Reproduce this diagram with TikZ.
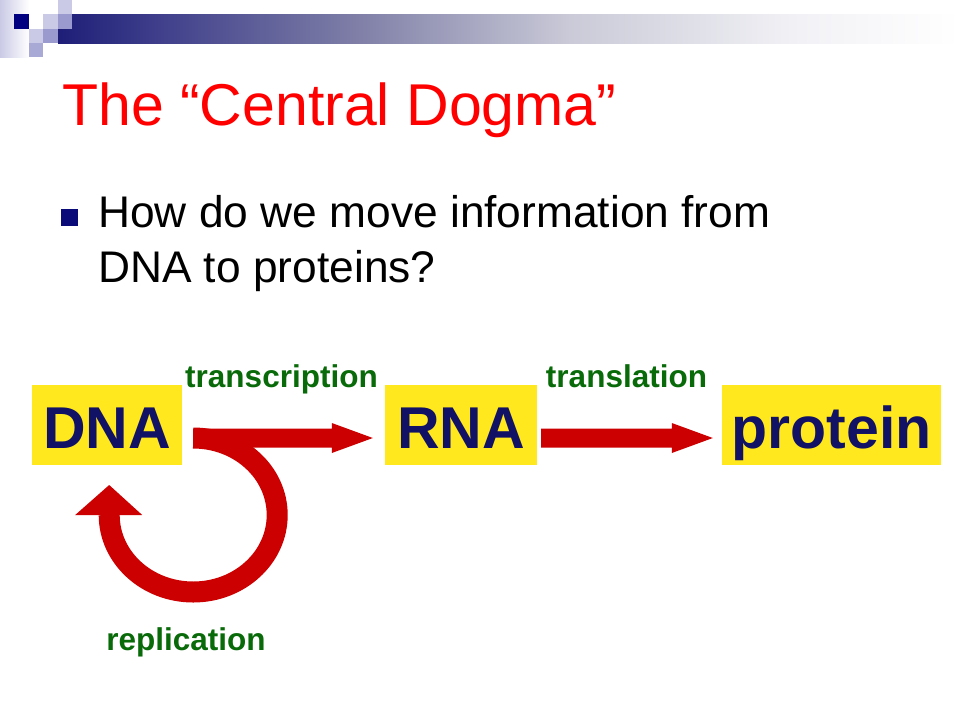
\documentclass[tikz,border=0pt]{standalone}
\usepackage{fontspec}
\setmainfont{Liberation Sans}
\usetikzlibrary{calc}
\definecolor{navy}{HTML}{111166}
\definecolor{boxyellow}{HTML}{FFE81E}
\definecolor{arrowred}{HTML}{CC0000}
\definecolor{labelgreen}{HTML}{086A08}
\definecolor{titlered}{HTML}{FF0000}
\definecolor{bulletblue}{HTML}{0A0A78}
\definecolor{sqlight}{HTML}{CACAE6}
\definecolor{sqmed}{HTML}{9A9ACE}
\definecolor{sqdark}{HTML}{000080}
\definecolor{barA}{HTML}{1E1E78}
\definecolor{barB}{HTML}{3C3C8A}
\definecolor{barC}{HTML}{8080A8}
\definecolor{barD}{HTML}{CACAD8}
\definecolor{barE}{HTML}{F2F2F6}
\pgfdeclarehorizontalshading{barshade}{100bp}{color(0bp)=(barA); color(25bp)=(barA);
  color(30.1bp)=(barB); color(41.74bp)=(barC); color(53.38bp)=(barD);
  color(66.13bp)=(barE); color(75bp)=(white); color(100bp)=(white)}
\begin{document}
\begin{tikzpicture}[x=1pt,y=-1pt,
  box/.style={fill=boxyellow, inner sep=0pt, minimum height=80pt,
    text height=46pt, text depth=0pt, text=navy,
    font=\fontsize{59}{60}\selectfont\bfseries},
  lbl/.style={anchor=base, inner sep=0pt, text=labelgreen,
    font=\fontsize{31.5}{36}\selectfont\bfseries},
  fatarrow/.style={to path={($(\tikztostart)+(0,-9.5)$) -- ($(\tikztotarget)+(-41,-9.5)$)
    -- ($(\tikztotarget)+(-41,-15)$) -- (\tikztotarget) -- ($(\tikztotarget)+(-41,15)$)
    -- ($(\tikztotarget)+(-41,9.5)$) -- ($(\tikztostart)+(0,9.5)$) -- cycle}}
]
\useasboundingbox (0,0) rectangle (960,720);
\fill[white] (0,0) rectangle (960,720);

% top decoration
\shade[left color=sqlight, right color=white] (0,0) rectangle (29,57);
\shade[shading=barshade] (58,14) rectangle (960,43);
\fill[sqdark] (14,14) rectangle (29,29);
\fill[sqlight] (58,0) rectangle (72,14);
\fill[sqlight] (43,14) rectangle (58,29);
\fill[sqmed] (58,14) rectangle (72,29);
\fill[sqlight] (29,29) rectangle (43,43);
\fill[sqmed] (43,29) rectangle (58,43);
\fill[sqmed!85!white] (29,43) rectangle (43,57);

% title and bullet text
\node[anchor=base west, inner sep=0pt, text=titlered, font=\fontsize{59}{70}\selectfont]
  (title) at (62,125) {The “Central Dogma”};
\fill[bulletblue] (61,209) rectangle (78,226);
\node[anchor=base west, inner sep=0pt, font=\fontsize{44.3}{55}\selectfont]
  (line1) at (98,227) {How do we move information from};
\node[anchor=base west, inner sep=0pt, font=\fontsize{44.3}{55}\selectfont]
  (line2) at (98,282) {DNA to proteins?};

% boxes
\node[box, minimum width=150pt] (dna) at (107,425) {DNA};
\node[box, minimum width=152pt] (rna) at (461,425) {RNA};
\node[box, minimum width=219pt] (prot) at (831.5,425) {protein};

% arrows
\coordinate (t1) at ([shift={(11,13)}]dna.east);
\coordinate (t2) at ([shift={(-12,13)}]rna.west);
\coordinate (l1) at ([shift={(4,13)}]rna.east);
\coordinate (l2) at ([shift={(-9,13)}]prot.west);
\draw[arrowred, line width=21pt] (t1) arc[start angle=-90, end angle=180, x radius=84, y radius=77] coordinate (rend);
\fill[arrowred] ([shift={(-34,0)}]rend) -- ([shift={(0,-30)}]rend) -- ([shift={(33,0)}]rend) -- cycle;
\fill[arrowred] (t1) to[fatarrow] (t2);
\fill[arrowred] (l1) to[fatarrow] (l2);

% labels
\node[lbl] (ltr) at (281.5,387) {transcription};
\node[lbl] (ltl) at (626.5,387) {translation};
\node[lbl] (lrp) at (186,650) {replication};
\end{tikzpicture}
\end{document}
